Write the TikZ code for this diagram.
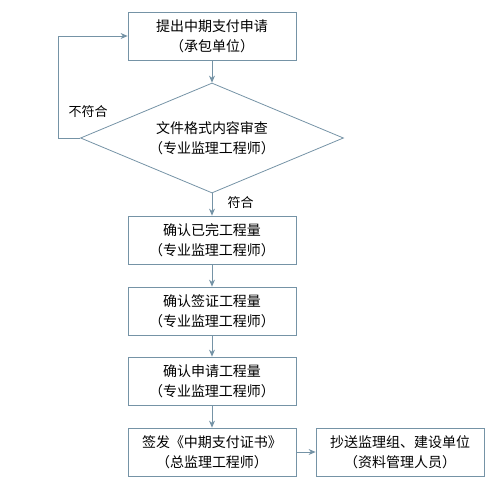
\documentclass[tikz,border=0pt]{standalone}
\usepackage{fontspec}
\setmainfont{Noto Sans CJK SC}
\usetikzlibrary{shapes.geometric}
\definecolor{linegray}{HTML}{7593A6}
\tikzset{
  stepbox/.style={draw=linegray, thick, minimum width=168pt, minimum height=48pt,
    inner sep=0pt, align=center, font=\fontsize{14}{20}\selectfont},
  check/.style={draw=linegray, thick, diamond, aspect=2.4, inner sep=0pt,
    minimum width=263pt, minimum height=110pt, align=center,
    font=\fontsize{14}{20}\selectfont},
  flow/.style={-{Stealth[length=7pt, width=6pt]}, linegray, thick},
  lbl/.style={text=black, font=\fontsize{13}{15}\selectfont}
}
\usetikzlibrary{arrows.meta}
\begin{document}
\begin{tikzpicture}[x=1pt, y=-1pt]
    \useasboundingbox (0,0) rectangle (499,487);

    % Steps
    \node[stepbox] (apply) at (212,36) {提出中期支付申请\\（承包单位）};
    \node[check] (review) at (212,138) {文件格式内容审查\\（专业监理工程师）};
    \node[stepbox] (done) at (212,240) {确认已完工程量\\（专业监理工程师）};
    \node[stepbox] (visa) at (212,311) {确认签证工程量\\（专业监理工程师）};
    \node[stepbox] (req) at (212,381) {确认申请工程量\\（专业监理工程师）};
    \node[stepbox] (cert) at (212,452) {签发《中期支付证书》\\（总监理工程师）};
    \node[stepbox] (copy) at (400,452) {抄送监理组、建设单位\\（资料管理人员）};

    % Arrows
    \draw[flow] (apply) -- (review);
    \draw[flow] (review) -- (done) node[lbl, pos=0.4, right=12pt] (yes) {符合};
    \draw[flow] (done) -- (visa);
    \draw[flow] (visa) -- (req);
    \draw[flow] (req) -- (cert);
    \draw[flow] (cert) -- (copy);

    % Loop back
    \coordinate (back) at (58,138);
    \draw[flow] (review.west) -- (back) |- (apply.west);
    \node[lbl] (no) at (88,112) {不符合};

\end{tikzpicture}
\end{document}
